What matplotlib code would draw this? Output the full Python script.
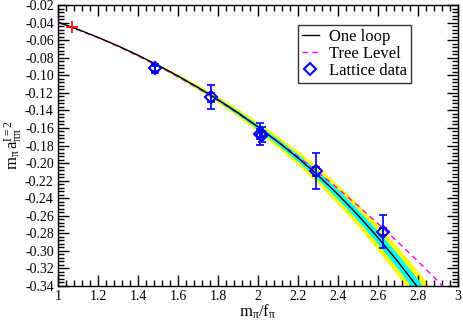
import matplotlib
matplotlib.use("Agg")
import matplotlib.pyplot as plt
from matplotlib.ticker import MultipleLocator, FormatStrFormatter

plt.rcParams['font.family'] = ['Liberation Serif', 'DejaVu Serif']
plt.rcParams['mathtext.fontset'] = 'custom'
plt.rcParams['mathtext.rm'] = 'Liberation Serif'
plt.rcParams['mathtext.it'] = 'Liberation Serif:italic'
plt.rcParams['axes.unicode_minus'] = False

# One-loop curve with error bands
x_curve = [1.0, 1.1, 1.2, 1.3, 1.4, 1.5, 1.6, 1.7, 1.8, 1.9, 2.0,
           2.1, 2.2, 2.3, 2.4, 2.5, 2.6, 2.7, 2.8, 2.9]
one_loop = [-0.0395, -0.0478, -0.0568, -0.0666, -0.0772, -0.0886, -0.1008,
            -0.1139, -0.1278, -0.1428, -0.1588, -0.1760, -0.1942, -0.2140,
            -0.2358, -0.2594, -0.2849, -0.3124, -0.3419, -0.3738]
err_inner = [0.0, 0.0001, 0.0002, 0.0003, 0.0005, 0.0007, 0.0010, 0.0013,
             0.0017, 0.0022, 0.0027, 0.0033, 0.0040, 0.0047, 0.0055, 0.0063,
             0.0072, 0.0082, 0.0092, 0.0103]
err_outer = [0.0, 0.0002, 0.0004, 0.0006, 0.0010, 0.0014, 0.0020, 0.0027,
             0.0035, 0.0045, 0.0055, 0.0067, 0.0080, 0.0095, 0.0110, 0.0127,
             0.0145, 0.0165, 0.0185, 0.0205]
tree_level = [-0.0398, -0.0482, -0.0573, -0.0672, -0.0780, -0.0895, -0.1019,
              -0.1150, -0.1289, -0.1436, -0.1592, -0.1755, -0.1926, -0.2105,
              -0.2292, -0.2487, -0.2690, -0.2901, -0.3119, -0.3346]
x_tree_end = [2.9, 3.0]
tree_end = [-0.3346, -0.3581]

# Lattice data
lat_x = [1.485, 1.765, 2.01, 2.02, 2.29, 2.625]
lat_y = [-0.0920, -0.1250, -0.1670, -0.1680, -0.2095, -0.2780]
lat_err_tot = [0.0050, 0.0135, 0.0125, 0.0085, 0.0205, 0.0185]
lat_err_stat = [0.0030, 0.0050, 0.0060, 0.0040, 0.0050, 0.0040]

phys_x = [1.068]
phys_y = [-0.0447]

fig = plt.figure(figsize=(4.63, 3.23), dpi=100)
ax = fig.add_axes([58/463, 1 - 286/323, 400/463, 281/323])

lo_out = [v - e for v, e in zip(one_loop, err_outer)]
hi_out = [v + e for v, e in zip(one_loop, err_outer)]
lo_in = [v - e for v, e in zip(one_loop, err_inner)]
hi_in = [v + e for v, e in zip(one_loop, err_inner)]
ax.fill_between(x_curve, lo_out, hi_out, color='#ffff00', lw=0, zorder=1)
ax.fill_between(x_curve, lo_in, hi_in, color='#00ffff', lw=0, zorder=2)

ax.plot(x_curve + x_tree_end[1:], tree_level + tree_end[1:], color='#ff00ff',
        ls=(0, (4, 3)), lw=1.0, zorder=3, label='Tree Level')
ax.plot(x_curve, one_loop, color='black', lw=1.0, zorder=4, label='One loop')

ax.errorbar(lat_x, lat_y, yerr=lat_err_tot, fmt='none', ecolor='#0000ff',
            elinewidth=1.2, capsize=3, capthick=1.2, zorder=5)
ax.errorbar(lat_x, lat_y, yerr=lat_err_stat, fmt='none', ecolor='#0000ff',
            elinewidth=1.2, capsize=3, capthick=1.2, zorder=5)
ax.plot(lat_x, lat_y, ls='none', marker='D', ms=6.5, mfc='none',
        mec='#0000ff', mew=1.5, zorder=6, label='Lattice data')
ax.plot(phys_x, phys_y, ls='none', marker='+', ms=8, mew=1.2,
        color='#ff0000', zorder=6)

ax.set_xlim(1, 3)
ax.set_ylim(-0.34, -0.02)
ax.xaxis.set_major_locator(MultipleLocator(0.2))
ax.xaxis.set_minor_locator(MultipleLocator(0.04))
ax.yaxis.set_major_locator(MultipleLocator(0.02))
ax.yaxis.set_minor_locator(MultipleLocator(0.004))
ax.xaxis.set_major_formatter(plt.FuncFormatter(lambda v, p: ('%g' % round(v, 2))))
ax.yaxis.set_major_formatter(FormatStrFormatter('%.2f'))
ax.tick_params(which='both', direction='in', top=True, right=True,
               labelsize=10, width=1.0, pad=3)
ax.tick_params(which='major', length=8)
ax.tick_params(which='minor', length=4)
for s in ax.spines.values():
    s.set_linewidth(1.0)

ax.set_xlabel(r'$\mathrm{m_{\pi}/f_{\pi}}$', fontsize=12)
ax.set_ylabel(r'$\mathrm{m_{\pi}\,a_{\pi\pi}^{I=2}}$', fontsize=12)
ax.xaxis.set_label_coords(0.5, -0.06, transform=ax.transAxes)
ax.yaxis.set_label_coords(-0.085, 0.5, transform=ax.transAxes)

h, l = ax.get_legend_handles_labels()
order = [l.index('One loop'), l.index('Tree Level'), l.index('Lattice data')]
leg = ax.legend([h[i] for i in order], [l[i] for i in order],
                loc='upper left', bbox_to_anchor=(0.6, 0.93), fontsize=12,
                frameon=True, fancybox=False, edgecolor='black',
                handlelength=1.0, handletextpad=0.6, borderpad=0.25,
                labelspacing=0.05, borderaxespad=0)
leg.get_frame().set_linewidth(1.0)

fig.savefig('out.png', dpi=100)
